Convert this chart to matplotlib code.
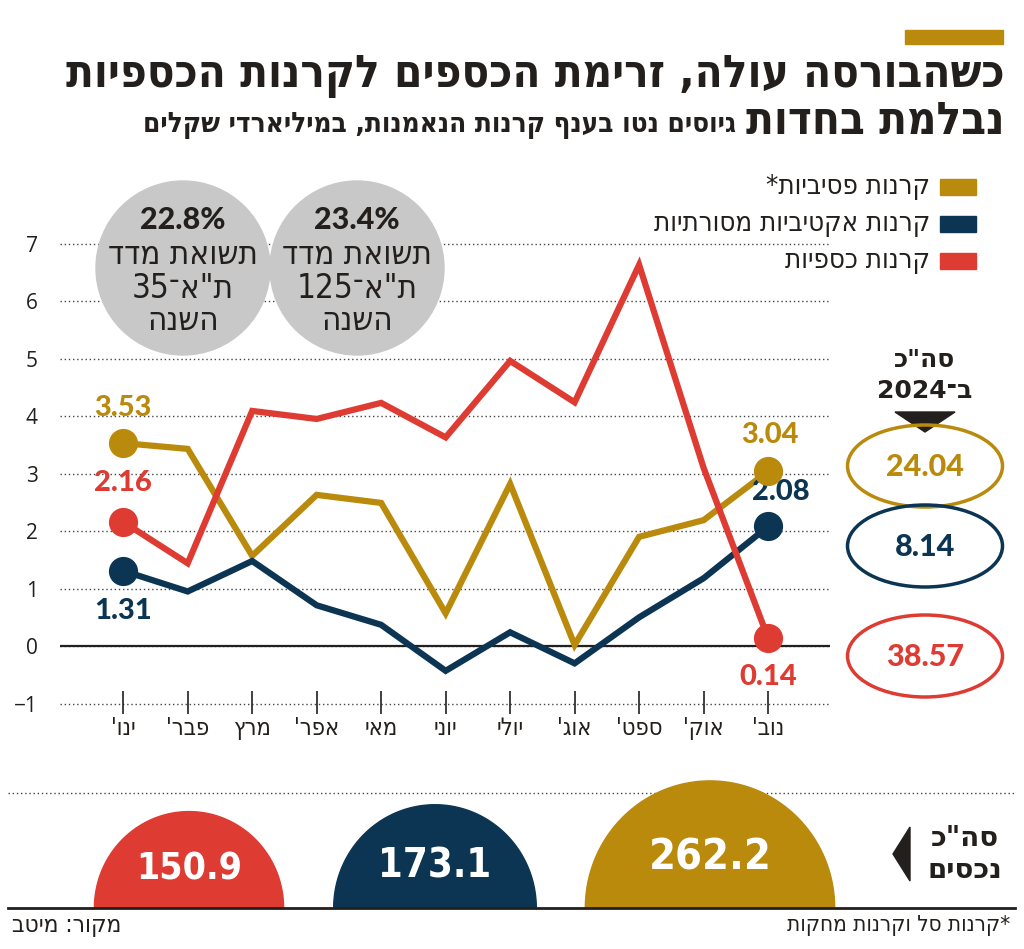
import re
import matplotlib
matplotlib.use("Agg")
import matplotlib.pyplot as plt
from matplotlib.patches import Ellipse, Circle, Rectangle, Polygon
import numpy as np

# monthly net flows, billions of shekels (Jan..Nov 2024)
months = ["ינו'", "פבר'", "מרץ", "אפר'", "מאי", "יוני", "יולי", "אוג'", "ספט'", "אוק'", "נוב'"]
passive = [3.53, 3.43, 1.57, 2.63, 2.49, 0.57, 2.82, 0.02, 1.90, 2.19, 3.04]
active = [1.31, 0.95, 1.48, 0.71, 0.37, -0.43, 0.24, -0.30, 0.50, 1.18, 2.08]
money = [2.16, 1.44, 4.09, 3.95, 4.23, 3.63, 4.96, 4.24, 6.63, 3.10, 0.14]
series_names = ["קרנות פסיביות*", "קרנות אקטיביות מסורתיות", "קרנות כספיות"]
totals_2024 = [24.04, 8.14, 38.57]
assets = [262.2, 173.1, 150.9]
index_pct = ["23.4%", "22.8%"]
index_name = ["125", "35"]
yticks = [-1, 0, 1, 2, 3, 4, 5, 6, 7]

GOLD = "#BA8A0C"
NAVY = "#0B3552"
RED = "#DE3B33"
GREY = "#C8C8C8"
INK = "#231F1C"
HEB = ["DejaVu Sans"]


def heb(s):
    # visual order for RTL text, keep digit runs left-to-right
    r = s[::-1]
    return re.sub(r"[0-9A-Za-z.%]+", lambda m: m.group(0)[::-1], r)


W, H = 1024, 949
fig = plt.figure(figsize=(W / 100, H / 100), dpi=100)
fig.patch.set_facecolor("white")
rend = fig.canvas.get_renderer()


def fit(t, width):
    w = t.get_window_extent(rend).width
    t.set_fontsize(t.get_fontsize() * width / w)
    return t.get_fontsize()


# ---- main line chart ----
ax = fig.add_axes([60 / W, (H - 745) / H, 770 / W, 575 / H], zorder=1)
ax.set_xlim(-0.98, 10.96)
ax.set_ylim(-1.72, 8.28)
for s in ax.spines.values():
    s.set_visible(False)
ax.set_yticks(yticks)
ax.set_yticklabels([str(v).replace("-", "\u2212") for v in yticks],
                   fontsize=15, family="Open Sans", color=INK)
ax.tick_params(axis="y", length=0, pad=16)
ax.set_xticks([])
ax.grid(axis="y", ls=(0, (1, 2)), color="#444444", lw=1)
ax.axhline(0, color=INK, lw=1.6)
x = np.arange(len(months))
ax.vlines(x, -1.18, -0.78, color=INK, lw=1.2)
for i, m in enumerate(months):
    ax.text(i, -1.43, heb(m), ha="center", va="center", fontsize=17,
            family=HEB, fontstretch="condensed", color=INK, clip_on=False)

for vals, c in [(passive, GOLD), (active, NAVY), (money, RED)]:
    ax.plot(x, vals, color=c, lw=4.5, solid_joinstyle="miter", zorder=3)
    ax.plot([x[0], x[-1]], [vals[0], vals[-1]], "o", ms=20, color=c, zorder=4)

lab = dict(ha="center", va="center", fontsize=21, fontweight="black",
           family="Lato", textcoords="offset points")
ax.annotate(f"{passive[0]:.2f}", (x[0], passive[0]), xytext=(0, 25), color=GOLD, **lab)
ax.annotate(f"{money[0]:.2f}", (x[0], money[0]), xytext=(0, 28), color=RED, **lab)
ax.annotate(f"{active[0]:.2f}", (x[0], active[0]), xytext=(0, -29), color=NAVY, **lab)
ax.annotate(f"{passive[-1]:.2f}", (x[-1], passive[-1]), xytext=(1, 26), color=GOLD, **lab)
ax.annotate(f"{active[-1]:.2f}", (x[-1], active[-1]), xytext=(9, 25), color=NAVY, **lab)
ax.annotate(f"{money[-1]:.2f}", (x[-1], money[-1]), xytext=(0, -28), color=RED, **lab)

# ---- overlay in pixel coordinates ----
ov = fig.add_axes([0, 0, 1, 1], zorder=5)
ov.set_xlim(0, W)
ov.set_ylim(H, 0)
ov.axis("off")
ov.patch.set_alpha(0)

# title
ov.add_patch(Rectangle((905, 30), 98, 14, color=GOLD))
t = ov.text(1005, 76, heb("כשהבורסה עולה, זרימת הכספים לקרנות הכספיות"), ha="right",
            va="center", fontsize=30, fontweight="bold", family=HEB,
            fontstretch="condensed", color=INK)
fs_title = fit(t, 935)
t2 = ov.text(1005, 121, heb("נבלמת בחדות"), ha="right", va="center", fontsize=fs_title,
             fontweight="bold", family=HEB, fontstretch="condensed", color=INK)
left_edge = t2.get_window_extent(rend).x0
t = ov.text(left_edge - 10, 125, heb("גיוסים נטו בענף קרנות הנאמנות, במיליארדי שקלים"),
            ha="right", va="center", fontsize=16, fontweight="bold", family=HEB,
            fontstretch="condensed", color=INK)
fit(t, left_edge - 10 - 140)

# legend
leg_y = [187, 224, 261]
texts = []
for yy, name, c in zip(leg_y, series_names, [GOLD, NAVY, RED]):
    ov.add_patch(Rectangle((940, yy - 8), 36, 16, color=c))
    texts.append(ov.text(930, yy, heb(name), ha="right", va="center", fontsize=16,
                         family=HEB, fontstretch="condensed", color=INK))
fs = fit(texts[1], 277)
for tt in texts:
    tt.set_fontsize(fs)

# index return circles
for cx, pct, nm in zip([357, 183], index_pct, index_name):
    ov.add_patch(Circle((cx, 268), 87, color=GREY, zorder=1))
    ov.text(cx, 220, pct, ha="center", va="center", fontsize=22, fontweight="black",
            family="Lato", color=INK)
    t1 = ov.text(cx, 254, heb("תשואת מדד"), ha="center", va="center", fontsize=18,
                 family=HEB, fontstretch="condensed", color=INK)
    f1 = fit(t1, 150)
    ov.text(cx, 288, heb('ת"א־' + nm), ha="center", va="center", fontsize=f1,
            family=HEB, fontstretch="condensed", color=INK)
    ov.text(cx, 321, heb("השנה"), ha="center", va="center", fontsize=f1,
            family=HEB, fontstretch="condensed", color=INK)

# 2024 totals on the right
ov.text(925, 360, heb('סה"כ'), ha="center", va="center", fontsize=18,
        fontweight="bold", family=HEB, color=INK)
ov.text(925, 391, heb("ב־2024"), ha="center", va="center", fontsize=18,
        fontweight="bold", family=HEB, color=INK)
ov.add_patch(Polygon([(895, 412), (955, 412), (925, 432)], color=INK))
for cy, v, c in zip([466, 546, 656], totals_2024, [GOLD, NAVY, RED]):
    ov.add_patch(Ellipse((925, cy), 155, 82, fill=False, ec=c, lw=2.5))
    ov.text(925, cy + 1, f"{v:.2f}", ha="center", va="center", fontsize=22,
            fontweight="black", family="Lato", color=c)

# bottom: total assets domes
ov.plot([8, 1015], [793, 793], ls=(0, (1, 2)), color="#444444", lw=1, zorder=0)
base = 908
th = np.linspace(0, np.pi, 100)
for cx, v, c in zip([710, 435, 189], assets, [GOLD, NAVY, RED]):
    a = 7.7 * np.sqrt(v)
    b = 7.85 * np.sqrt(v)
    pts = np.column_stack([cx + a * np.cos(th), base - b * np.sin(th)])
    ov.add_patch(Polygon(pts, color=c, zorder=2))
    t = ov.text(cx, base - b * 0.40, f"{v:.1f}", ha="center", va="center",
                fontsize=30, fontweight="bold", family="DejaVu Sans",
                fontstretch="condensed", color="white", zorder=3)
    fit(t, 1.9 * a * 0.52 if v > 200 else 2 * a * 0.56)
ov.plot([8, 1015], [base, base], color=INK, lw=2, zorder=3)
ov.text(965, 838, heb('סה"כ'), ha="center", va="center", fontsize=20,
        fontweight="bold", family=HEB, color=INK)
ov.text(965, 870, heb("נכסים"), ha="center", va="center", fontsize=20,
        fontweight="bold", family=HEB, color=INK)
ov.add_patch(Polygon([(893, 854), (910, 827), (910, 881)], color=INK))

# footer
t = ov.text(1010, 925, heb("*קרנות סל וקרנות מחקות"), ha="right", va="center",
            fontsize=14, family=HEB, fontstretch="condensed", color=INK)
fit(t, 225)
t = ov.text(12, 925, heb("מקור: מיטב"), ha="left", va="center", fontsize=14,
            family=HEB, fontstretch="condensed", color=INK)
fit(t, 110)

fig.savefig("out.png", dpi=100, facecolor="white")
